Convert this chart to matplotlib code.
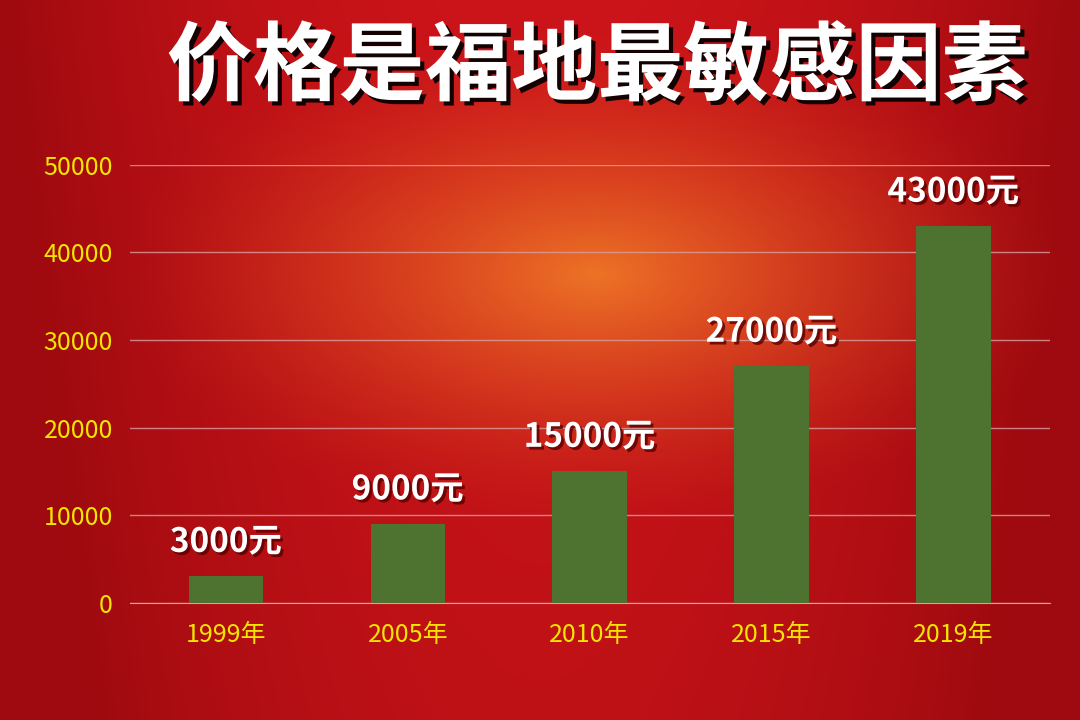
import numpy as np
import matplotlib
matplotlib.use("Agg")
import matplotlib.pyplot as plt
import matplotlib.patheffects as pe

plt.rcParams['font.family'] = ['Noto Sans CJK SC', 'DejaVu Sans']

years = ["1999年", "2005年", "2010年", "2015年", "2019年"]
prices = [3000, 9000, 15000, 27000, 43000]
labels = ["3000元", "9000元", "15000元", "27000元", "43000元"]
title = "价格是福地最敏感因素"

fig = plt.figure(figsize=(10.8, 7.2), dpi=100)

# background gradient
bg = fig.add_axes([0, 0, 1, 1])
h, w = 360, 540
yy, xx = np.mgrid[0:h, 0:w]
xn, yn = xx / w, yy / h
d = np.sqrt(((xn - 0.55) / 0.45) ** 2 + ((yn - 0.38) / 0.35) ** 2)
glow = np.clip(1 - d, 0, 1) ** 1.5
base = np.array([0.80, 0.08, 0.10])
dark = np.array([0.62, 0.04, 0.06])
orange = np.array([0.93, 0.45, 0.15])
edge = np.clip((np.abs(xn - 0.5) * 2) ** 2 + yn * 0.3, 0, 1)[..., None]
img = base * (1 - edge) + dark * edge
img = img * (1 - glow[..., None]) + orange * glow[..., None]
bg.imshow(img, aspect='auto', extent=[0, 1, 0, 1], origin='upper')
bg.set_axis_off()

ax = fig.add_axes([0.12, 0.163, 0.852, 0.608])
ax.set_facecolor('none')
x = np.arange(len(years))
ax.bar(x, prices, width=0.41, color='#4e7330', zorder=3)
ax.set_ylim(0, 50000)
ax.set_xlim(-0.53, len(years) - 0.47)
ax.set_yticks(range(0, 50001, 10000))
ax.yaxis.grid(True, color='#d9a0a0', linewidth=1, alpha=0.8, zorder=0)
ax.set_xticks(x)
ax.set_xticklabels(years)
ax.tick_params(axis='both', colors='#f2e600', labelsize=18, length=0)
ax.tick_params(axis='x', pad=14)
ax.tick_params(axis='y', pad=12)
for lab in ax.get_xticklabels() + ax.get_yticklabels():
    lab.set_color('#f2e600')
for s in ['top', 'right', 'left']:
    ax.spines[s].set_visible(False)
ax.spines['bottom'].set_color('#d9a0a0')

for xi, v, t in zip(x, prices, labels):
    ax.text(xi, v + 2000, t, ha='center', va='bottom', fontsize=24, fontweight='bold',
            color='white', path_effects=[pe.withSimplePatchShadow(offset=(2, -2), shadow_rgbFace='#5a0000', alpha=0.8)])

fig.text(0.553, 0.905, title, ha='center', va='center', fontsize=62, fontweight='bold', color='white',
         path_effects=[pe.withSimplePatchShadow(offset=(3, -3), shadow_rgbFace='black', alpha=0.9)])

fig.savefig('out.png', dpi=100)
